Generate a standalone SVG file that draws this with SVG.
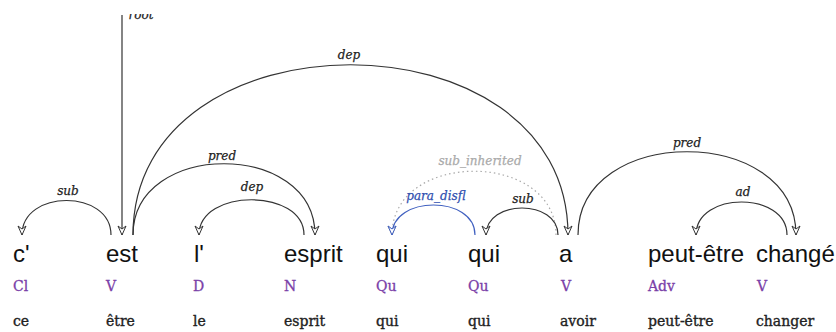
<svg xmlns="http://www.w3.org/2000/svg" width="836" height="332" viewBox="0 0 836 332">
<style>
.w{font-family:"Liberation Sans",Arial,sans-serif;font-size:24px;fill:#111}
.c{font-family:"DejaVu Serif",serif;font-size:14px;fill:#7a40a8;stroke:#7a40a8;stroke-width:0.3}
.l{font-family:"DejaVu Serif",serif;font-size:14px;fill:#222;stroke:#222;stroke-width:0.35}
.lab{font-family:"DejaVu Serif",serif;font-style:italic;font-size:12px;text-anchor:middle;fill:#222;stroke-width:0.25;stroke:#222}
.arc{fill:none;stroke:#333;stroke-width:1.2}
</style>
<defs>
<marker id="ah" viewBox="-10 -5 11 10" refX="0" refY="0" markerWidth="11" markerHeight="10" markerUnits="userSpaceOnUse" orient="auto">
<path d="M0,0 L-9,-4 L-6,0 L-9,4 Z" fill="#fff" stroke="#333" stroke-width="1"/>
</marker>
<marker id="ahb" viewBox="-10 -5 11 10" refX="0" refY="0" markerWidth="11" markerHeight="10" markerUnits="userSpaceOnUse" orient="auto">
<path d="M0,0 L-9,-4 L-6,0 L-9,4 Z" fill="#fff" stroke="#4060c0" stroke-width="1"/>
</marker>
<marker id="ahg" viewBox="-10 -5 11 10" refX="0" refY="0" markerWidth="11" markerHeight="10" markerUnits="userSpaceOnUse" orient="auto">
<path d="M0,0 L-9,-4 L-6,0 L-9,4 Z" fill="none" stroke="#aaa" stroke-width="1"/>
</marker>
<clipPath id="topclip"><rect x="0" y="14" width="836" height="318"/></clipPath>
</defs>
<g id="connectors">
<path class="arc" d="M122,15 V235" marker-end="url(#ah)"/>
<text class="lab" x="141" y="19" clip-path="url(#topclip)">root</text>
<path class="arc" d="M111,235 C111,189 22,189 22,235" marker-end="url(#ah)"/>
<text class="lab" x="68" y="195">sub</text>
<path class="arc" d="M133,235 C133,140 315,140 315,235" marker-end="url(#ah)"/>
<text class="lab" x="222" y="160">pred</text>
<path class="arc" d="M304,235 C304,188 199,188 199,235" marker-end="url(#ah)"/>
<text class="lab" x="252" y="191">dep</text>
<path class="arc" d="M133,235 C133,8 568,8 568,235" marker-end="url(#ah)"/>
<text class="lab" x="349" y="59">dep</text>
<path d="M556,235 C556,150 392,150 392,235" fill="none" stroke="#aaa" stroke-width="1.2" stroke-dasharray="1.5,3" marker-end="url(#ahg)"/>
<text class="lab" x="480" y="165" style="fill:#aaa;stroke:#aaa">sub_inherited</text>
<path d="M475,235 C475,195 392,195 392,235" fill="none" stroke="#4060c0" stroke-width="1.2" marker-end="url(#ahb)"/>
<text class="lab" x="436" y="200" style="fill:#3050b0;stroke:#3050b0">para_disfl</text>
<path class="arc" d="M558,235 C558,199 486,199 486,235" marker-end="url(#ah)"/>
<text class="lab" x="523" y="203">sub</text>
<path class="arc" d="M578,235 C578,124 796,124 796,235" marker-end="url(#ah)"/>
<text class="lab" x="687" y="147">pred</text>
<path class="arc" d="M787,235 C787,191 696,191 696,235" marker-end="url(#ah)"/>
<text class="lab" x="743" y="196">ad</text>
</g>
<g id="n1"><text class="w" x="13" y="262">c'</text><text class="c" x="13" y="291">Cl</text><text class="l" x="13" y="326">ce</text></g>
<g id="n2"><text class="w" x="106" y="262">est</text><text class="c" x="106" y="291">V</text><text class="l" x="106" y="326">être</text></g>
<g id="n3"><text class="w" x="194" y="262">l'</text><text class="c" x="193" y="291">D</text><text class="l" x="193" y="326">le</text></g>
<g id="n4"><text class="w" x="284" y="262">esprit</text><text class="c" x="284" y="291">N</text><text class="l" x="284" y="326">esprit</text></g>
<g id="n5"><text class="w" x="376" y="262">qui</text><text class="c" x="376" y="291">Qu</text><text class="l" x="376" y="326">qui</text></g>
<g id="n6"><text class="w" x="468" y="262">qui</text><text class="c" x="468" y="291">Qu</text><text class="l" x="468" y="326">qui</text></g>
<g id="n7"><text class="w" x="559" y="262">a</text><text class="c" x="561" y="291">V</text><text class="l" x="560" y="326">avoir</text></g>
<g id="n8"><text class="w" x="648" y="262">peut-être</text><text class="c" x="648" y="291">Adv</text><text class="l" x="648" y="326">peut-être</text></g>
<g id="n9"><text class="w" x="756" y="262">changé</text><text class="c" x="757" y="291">V</text><text class="l" x="756" y="326">changer</text></g>
</svg>
